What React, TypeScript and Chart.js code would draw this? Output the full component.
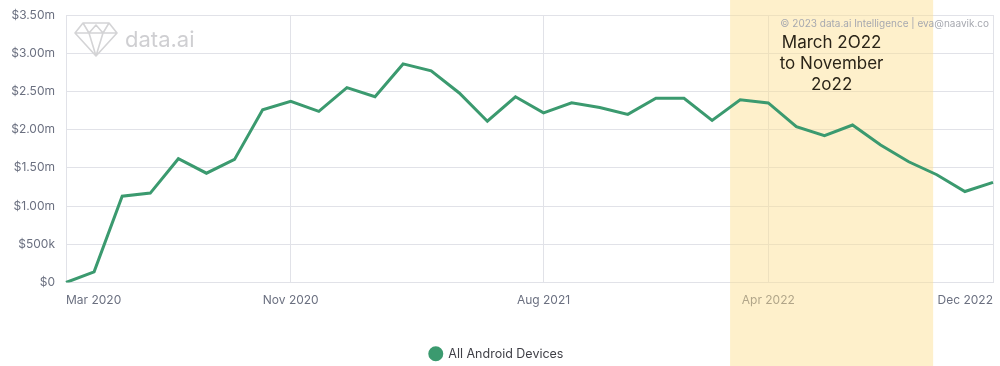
import React, { useEffect, useRef } from "react";
import { Chart, registerables } from "chart.js";

Chart.register(...registerables);

const months: string[] = [
  "Mar 2020", "Apr 2020", "May 2020", "Jun 2020", "Jul 2020", "Aug 2020", "Sep 2020", "Oct 2020",
  "Nov 2020", "Dec 2020", "Jan 2021", "Feb 2021", "Mar 2021", "Apr 2021", "May 2021", "Jun 2021",
  "Jul 2021", "Aug 2021", "Sep 2021", "Oct 2021", "Nov 2021", "Dec 2021", "Jan 2022", "Feb 2022",
  "Mar 2022", "Apr 2022", "May 2022", "Jun 2022", "Jul 2022", "Aug 2022", "Sep 2022", "Oct 2022",
  "Nov 2022", "Dec 2022",
];

const shownMonthLabels: string[] = ["Mar 2020", "Nov 2020", "Aug 2021", "Apr 2022", "Dec 2022"];

const revenueMillions: number[] = [
  0.0, 0.14, 1.13, 1.17, 1.62, 1.43, 1.61, 2.26,
  2.37, 2.24, 2.55, 2.43, 2.86, 2.77, 2.48, 2.11,
  2.43, 2.22, 2.35, 2.29, 2.20, 2.41, 2.41, 2.12,
  2.39, 2.35, 2.04, 1.92, 2.06, 1.80, 1.58, 1.41,
  1.19, 1.31,
];

const yTickValues: number[] = [0, 0.5, 1, 1.5, 2, 2.5, 3, 3.5];
const yTickLabels: string[] = ["$0", "$500k", "$1.00m", "$1.50m", "$2.00m", "$2.50m", "$3.00m", "$3.50m"];

// highlighted band, in month-index units on the x scale
const highlightFrom = 23.64;
const highlightTo = 30.87;
const highlightText: string[] = ["March 2O22", "to November", "2o22"];
const seriesName = "All Android Devices";
const copyrightText = "© 2023 data.ai Intelligence | eva@naavik.co";
const watermarkText = "data.ai";

const FONT = "Inter, 'Open Sans', sans-serif";

const highlightPlugin = {
  id: "highlightBox",
  beforeDatasetsDraw(chart: any) {
    const { ctx } = chart;
    const x = chart.scales.x;
    const left = x.getPixelForValue(highlightFrom);
    const right = x.getPixelForValue(highlightTo);
    ctx.save();
    ctx.fillStyle = "rgba(252, 224, 146, 0.48)";
    ctx.fillRect(left, 0, right - left, chart.height);
    ctx.restore();
  },
  afterDraw(chart: any) {
    const { ctx, chartArea } = chart;
    const x = chart.scales.x;
    const cx = (x.getPixelForValue(highlightFrom) + x.getPixelForValue(highlightTo)) / 2;
    ctx.save();
    // copyright
    ctx.font = `10px ${FONT}`;
    ctx.fillStyle = "#a7a9b0";
    ctx.textAlign = "right";
    ctx.textBaseline = "middle";
    ctx.fillText(copyrightText, chartArea.right - 4, 24);
    // annotation text
    ctx.font = `17px ${FONT}`;
    ctx.fillStyle = "#2a2418";
    ctx.textAlign = "center";
    ctx.fillText(highlightText[0], cx, 43);
    ctx.fillText(highlightText[1], cx, 64);
    ctx.fillText(highlightText[2], cx, 85);
    // watermark
    const wx = chartArea.left + 9;
    const wy = 23;
    ctx.strokeStyle = "#d4d4d6";
    ctx.lineWidth = 1.6;
    ctx.lineJoin = "round";
    ctx.beginPath();
    ctx.moveTo(wx + 8, wy);
    ctx.lineTo(wx + 34, wy);
    ctx.lineTo(wx + 42, wy + 10);
    ctx.lineTo(wx + 21, wy + 33);
    ctx.lineTo(wx, wy + 10);
    ctx.closePath();
    ctx.moveTo(wx, wy + 10);
    ctx.lineTo(wx + 42, wy + 10);
    ctx.moveTo(wx + 8, wy);
    ctx.lineTo(wx + 14, wy + 10);
    ctx.lineTo(wx + 21, wy + 33);
    ctx.lineTo(wx + 28, wy + 10);
    ctx.lineTo(wx + 34, wy);
    ctx.moveTo(wx + 14, wy + 10);
    ctx.lineTo(wx + 21, wy + 2);
    ctx.lineTo(wx + 28, wy + 10);
    ctx.stroke();
    ctx.font = `22px ${FONT}`;
    ctx.fillStyle = "#cfcfd2";
    ctx.textAlign = "left";
    ctx.textBaseline = "alphabetic";
    ctx.fillText(watermarkText, wx + 50, wy + 24);
    ctx.restore();
  },
};

export default function App() {
  const canvasRef = useRef<HTMLCanvasElement | null>(null);

  useEffect(() => {
    document.body.style.margin = "0";
    if (!canvasRef.current) return;
    const chart = new Chart(canvasRef.current, {
      type: "line",
      data: {
        labels: months,
        datasets: [
          {
            label: seriesName,
            data: revenueMillions,
            borderColor: "#3b9a6f",
            backgroundColor: "#3b9a6f",
            borderWidth: 3,
            pointRadius: 0,
            pointHoverRadius: 0,
            tension: 0,
            pointStyle: "circle",
          },
        ],
      },
      options: {
        animation: false,
        responsive: false,
        devicePixelRatio: 1,
        layout: { padding: { top: 15, right: 7, left: 0, bottom: -4 } },
        plugins: {
          tooltip: { enabled: false },
          legend: {
            position: "bottom",
            labels: {
              usePointStyle: true,
              pointStyle: "circle",
              boxWidth: 15,
              boxHeight: 8.5,
              padding: 6,
              color: "#3f3f46",
              font: { family: FONT, size: 12.5 },
            },
          },
        },
        scales: {
          x: {
            type: "category",
            border: { display: true, color: "#e1e2e8", width: 1 },
            grid: {
              drawTicks: false,
              color: (c: any) => {
                const lbl = months[c.index];
                return shownMonthLabels.includes(lbl) ? "#e1e2e8" : "rgba(0,0,0,0)";
              },
            },
            ticks: {
              autoSkip: false,
              maxRotation: 0,
              align: "inner",
              padding: 11,
              color: "#6b7080",
              font: { family: FONT, size: 12 },
              callback: (_v: any, i: number) => (shownMonthLabels.includes(months[i]) ? months[i] : ""),
            },
            afterFit: (s: any) => {
              s.height = 59;
              s.paddingLeft = 0;
              s.paddingRight = 0;
            },
          },
          y: {
            min: 0,
            max: 3.5,
            border: { display: true, color: "#e1e2e8", width: 1 },
            grid: { drawTicks: false, color: "#e1e2e8" },
            afterBuildTicks: (s: any) => {
              s.ticks = yTickValues.map((v) => ({ value: v }));
            },
            ticks: {
              padding: 11,
              color: "#6b7080",
              font: { family: FONT, size: 12 },
              callback: (v: any) => {
                const i = yTickValues.indexOf(Number(v));
                return i >= 0 ? yTickLabels[i] : "";
              },
            },
            afterFit: (s: any) => {
              s.width = 66;
              s.paddingTop = 0;
              s.paddingBottom = 0;
            },
          },
        },
      },
      plugins: [highlightPlugin],
    });
    return () => chart.destroy();
  }, []);

  return (
    <div style={{ width: 1000, height: 366 }}>
      <canvas ref={canvasRef} width={1000} height={366} style={{ display: "block" }} />
    </div>
  );
}
